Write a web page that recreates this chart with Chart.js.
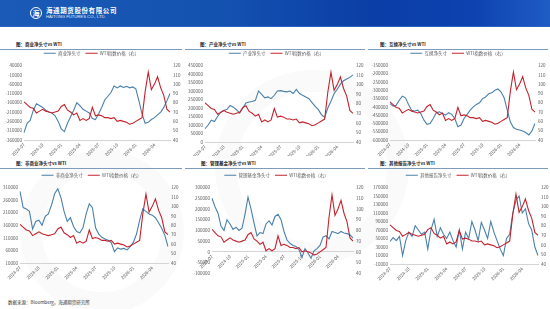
<!DOCTYPE html>
<html>
<head>
<meta charset="utf-8">
<script src="https://cdn.jsdelivr.net/npm/chart.js@4.4.1/dist/chart.umd.min.js"></script>
<style>
  html, body { margin: 0; padding: 0; }
  body { width: 550px; height: 309px; position: relative; overflow: hidden; background: #fff; font-family: "Noto Sans CJK SC", sans-serif; }
  #banner { position: absolute; left: 0; top: 0; width: 550px; height: 26px;
    background: linear-gradient(90deg, #1b5ab6 0%, #1452b0 40%, #0b3ea6 68%, #0d42b0 86%, #1f5cc4 100%);
    border-bottom: 1px solid #2a64c0; }
  #logo { position: absolute; left: 30px; top: 7px; width: 10px; height: 10px; border: 1.5px solid #fff; border-radius: 50%;
    color: #fff; font-size: 7px; line-height: 10px; text-align: center; font-weight: bold; }
  #cn { position: absolute; left: 46px; top: 5px; color: #fff; font-size: 6.5px; font-weight: bold; letter-spacing: 0.6px; white-space: nowrap; }
  #en { position: absolute; left: 46px; top: 14px; color: #e6eefa; font-size: 4.2px; font-family: "Liberation Sans", Arial, sans-serif; white-space: nowrap; }
  .mark { position: absolute; border-radius: 50%; border: 22px solid rgba(0,0,0,0.018); }
  .ttl { position: absolute; font-size: 4.5px; font-weight: bold; color: #1f1f1f; white-space: nowrap; }
  .rule { position: absolute; height: 1px; background: #7d9cbc; }
  .box { position: absolute; }
  #src { position: absolute; left: 8px; top: 299px; font-size: 4.5px; color: #333; white-space: nowrap; }
</style>
</head>
<body>
<div id="banner"></div>
<div id="logo">海</div>
<div id="cn">海通期货股份有限公司</div>
<div id="en">HAITONG FUTURES CO., LTD.</div>

<div class="mark" style="left:215px;top:70px;width:150px;height:150px;"></div>
<div class="mark" style="left:20px;top:150px;width:120px;height:120px;"></div>

<div class="ttl" style="left:16px;top:41px;">图：商业净头寸vs WTI</div>
<div class="ttl" style="left:200px;top:41px;">图：产业净头寸vs WTI</div>
<div class="ttl" style="left:380px;top:41px;">图：互换净头寸vs WTI</div>
<div class="ttl" style="left:16px;top:160px;">图：非商业净头寸vs WTI</div>
<div class="ttl" style="left:201px;top:160px;">图：管理基金净头寸vs WTI</div>
<div class="ttl" style="left:380px;top:160px;">图：其他报告净头寸vs WTI</div>

<div class="rule" style="left:0px;top:49px;width:182px;"></div>
<div class="rule" style="left:185px;top:49px;width:180px;"></div>
<div class="rule" style="left:368px;top:49px;width:180px;"></div>
<div class="rule" style="left:0px;top:168px;width:182px;"></div>
<div class="rule" style="left:185px;top:168px;width:180px;"></div>
<div class="rule" style="left:368px;top:168px;width:180px;"></div>

<div class="box" style="left:0px;top:46px;width:183px;height:110px;"><canvas id="c1"></canvas></div>
<div class="box" style="left:183px;top:46px;width:187px;height:110px;"><canvas id="c2"></canvas></div>
<div class="box" style="left:366px;top:46px;width:184px;height:110px;"><canvas id="c3"></canvas></div>
<div class="box" style="left:0px;top:168px;width:183px;height:113px;"><canvas id="c4"></canvas></div>
<div class="box" style="left:183px;top:168px;width:187px;height:111px;"><canvas id="c5"></canvas></div>
<div class="box" style="left:366px;top:168px;width:184px;height:113px;"><canvas id="c6"></canvas></div>

<div id="src">数据来源：Bloomberg，海通期货研究所</div>

<script>
// half-month periods, 2024-07 .. 2026-06
const periods = [
  "2024-07-01", "2024-07-15", "2024-08-01", "2024-08-15", "2024-09-01", "2024-09-15",
  "2024-10-01", "2024-10-15", "2024-11-01", "2024-11-15", "2024-12-01", "2024-12-15",
  "2025-01-01", "2025-01-15", "2025-02-01", "2025-02-15", "2025-03-01", "2025-03-15",
  "2025-04-01", "2025-04-15", "2025-05-01", "2025-05-15", "2025-06-01", "2025-06-15",
  "2025-07-01", "2025-07-15", "2025-08-01", "2025-08-15", "2025-09-01", "2025-09-15",
  "2025-10-01", "2025-10-15", "2025-11-01", "2025-11-15", "2025-12-01", "2025-12-15",
  "2026-01-01", "2026-01-15", "2026-02-01", "2026-02-15", "2026-03-01", "2026-03-15",
  "2026-04-01", "2026-04-15", "2026-05-01", "2026-05-15", "2026-06-01", "2026-06-15"
];

const wti = [
  81, 78, 75, 74, 69, 71, 73, 71, 70, 69, 70, 71,
  76, 78, 72, 70, 67, 69, 61, 63, 61, 63, 75, 66,
  67, 66, 64, 64, 63, 64, 60, 61, 60, 59, 57, 58,
  60, 62, 64, 92, 113, 94, 100, 108, 96, 88, 73, 70
];

const commercialNet = [
  -320000, -270000, -255000, -200000, -165000, -175000, -185000, -200000, -210000, -215000, -230000, -260000,
  -300000, -315000, -270000, -235000, -200000, -160000, -175000, -195000, -205000, -215000, -245000, -250000,
  -220000, -185000, -145000, -125000, -105000, -70000, -80000, -70000, -78000, -72000, -80000, -75000,
  -85000, -150000, -220000, -270000, -265000, -250000, -240000, -225000, -210000, -185000, -150000, -110000
];

const producerNet = [
  78000, 100000, 128000, 120000, 150000, 175000, 185000, 192000, 215000, 205000, 190000, 170000,
  200000, 230000, 235000, 238000, 245000, 300000, 280000, 260000, 265000, 255000, 275000, 300000,
  302000, 298000, 295000, 300000, 285000, 310000, 285000, 275000, 265000, 255000, 232000, 210000,
  190000, 160000, 145000, 200000, 240000, 285000, 310000, 340000, 360000, 370000, 380000, 395000
];

const swapNet = [
  -380000, -395000, -390000, -360000, -335000, -345000, -385000, -420000, -425000, -420000, -440000, -480000,
  -505000, -500000, -470000, -435000, -430000, -440000, -450000, -435000, -445000, -470000, -520000, -510000,
  -470000, -445000, -420000, -400000, -385000, -375000, -350000, -340000, -320000, -315000, -300000, -292000,
  -310000, -345000, -420000, -490000, -525000, -535000, -540000, -545000, -555000, -570000, -545000, -500000
];

const nonCommercialNet = [
  295000, 230000, 225000, 215000, 145000, 175000, 180000, 160000, 195000, 205000, 240000, 285000,
  305000, 270000, 215000, 175000, 190000, 155000, 135000, 130000, 150000, 205000, 245000, 230000,
  150000, 125000, 112000, 105000, 100000, 90000, 55000, 70000, 65000, 68000, 62000, 75000,
  92000, 125000, 180000, 225000, 215000, 205000, 200000, 190000, 170000, 148000, 120000, 75000
];

const managedMoneyNet = [
  250000, 210000, 180000, 120000, 100000, 150000, 130000, 105000, 115000, 100000, 110000, 175000,
  255000, 200000, 135000, 75000, 90000, 85000, 130000, 145000, 125000, 165000, 175000, 150000,
  95000, 55000, 40000, 30000, 25000, 10000, -25000, 15000, -5000, -30000, 5000, 15000,
  30000, 68000, 75000, 60000, 95000, 90000, 85000, 95000, 88000, 85000, 80000, 64000
];

const otherReportNet = [
  43000, 52000, 45000, 55000, 10000, 45000, 65000, 55000, 80000, 70000, 60000, 65000,
  25000, 70000, 95000, 55000, 75000, 60000, 50000, 65000, 45000, 30000, 70000, 25000,
  65000, 50000, 90000, 70000, 45000, 88000, 70000, 50000, 90000, 65000, 45000, 25000,
  10000, 50000, 60000, 110000, 140000, 150000, 110000, 120000, 85000, 70000, 30000, 10000
];

const wtiLabel = "WTI指数价格（右）";
const BLUE = "#4a80aa";
const RED = "#c3232d";
const GREY = "#595959";
const FONT = "'Noto Sans CJK SC', 'DejaVu Sans', sans-serif";

const panels = [
  { id: "c1", name: "商业净头寸", values: commercialNet, min: -360000, max: 40000, step: 50000, yw: 24, y1w: 13, xh: 16 },
  { id: "c2", name: "产业净头寸", values: producerNet, min: 0, max: 450000, step: 50000, yw: 22, y1w: 17, xh: 14 },
  { id: "c3", name: "互换净头寸", values: swapNet, min: -600000, max: -150000, step: 50000, yw: 24, y1w: 15, xh: 16 },
  { id: "c4", name: "非商业净头寸", values: nonCommercialNet, min: 10000, max: 310000, step: 50000, yw: 20, y1w: 15, xh: 18 },
  { id: "c5", name: "管理基金净头寸", values: managedMoneyNet, min: -100000, max: 300000, step: 50000, yw: 29, y1w: 17, xh: 0, atZero: true },
  { id: "c6", name: "其他报告净头寸", values: otherReportNet, min: -10000, max: 170000, step: 20000, yw: 24, y1w: 12, xh: 17 }
];

const tickFont = { size: 4.5, family: FONT };

panels.forEach(p => {
  new Chart(document.getElementById(p.id), {
    type: "line",
    data: {
      labels: periods,
      datasets: [
        { label: p.name, data: p.values, yAxisID: "y", borderColor: BLUE, backgroundColor: BLUE,
          borderWidth: 1.1, pointRadius: 0, tension: 0, order: 1 },
        { label: wtiLabel, data: wti, yAxisID: "y1", borderColor: RED, backgroundColor: RED,
          borderWidth: 1.1, pointRadius: 0, tension: 0, order: 0 }
      ]
    },
    options: {
      responsive: true,
      maintainAspectRatio: false,
      animation: false,
      layout: { padding: 0 },
      plugins: {
        legend: {
          labels: {
            font: tickFont, color: GREY, usePointStyle: true, pointStyle: "line",
            pointStyleWidth: 12, padding: 5,
            sort: (a, b) => a.datasetIndex - b.datasetIndex
          }
        },
        tooltip: { enabled: false }
      },
      scales: {
        x: {
          position: p.atZero ? { y: 0 } : "bottom",
          offset: false,
          grid: { display: false, drawTicks: false },
          border: { color: "#d4d4d4" },
          ticks: {
            autoSkip: false, minRotation: 45, maxRotation: 45, padding: 2,
            font: tickFont, color: GREY,
            callback: (v, i) => (i % 6 === 0 ? periods[i].slice(0, 7) : "")
          },
          afterFit: s => { if (!p.atZero) s.height = p.xh; }
        },
        y: {
          position: "left", min: p.min, max: p.max,
          grid: { display: false, drawTicks: false },
          border: { display: false },
          ticks: { stepSize: p.step, autoSkip: false, font: tickFont, color: GREY, padding: 2,
            callback: v => String(v) },
          afterFit: s => { s.width = p.yw; }
        },
        y1: {
          position: "right", min: 40, max: 120,
          grid: { display: false, drawTicks: false },
          border: { display: false },
          ticks: { stepSize: 10, autoSkip: false, font: tickFont, color: GREY, padding: 3 },
          afterFit: s => { s.width = p.y1w; }
        }
      }
    }
  });
});
</script>
</body>
</html>
